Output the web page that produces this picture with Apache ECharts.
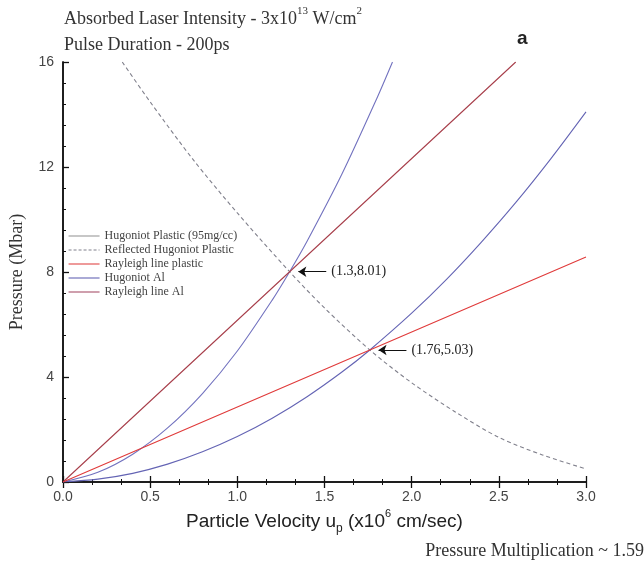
<!DOCTYPE html>
<html>
<head>
<meta charset="utf-8">
<title>Pressure vs particle velocity</title>
<script src="https://cdn.jsdelivr.net/npm/echarts@6/dist/echarts.min.js"></script>
<style>
  html, body { margin: 0; padding: 0; background: #fff; }
  #chart { width: 644px; height: 572px; }
</style>
</head>
<body>
<div id="chart"></div>
<script>
// values: u_p (x10^6 cm/sec), pressure (Mbar)
var hugoniotPlastic = [[0, 0], [0.2, 0.37], [0.4, 1.06], [0.6, 2.06], [0.8, 3.37], [1.0, 4.99], [1.2, 6.93],
  [1.3, 8.01], [1.4, 9.17], [1.6, 11.73], [1.8, 14.61], [1.89, 16.0]];
var reflectedPlastic = [[0.34, 16.0], [0.5, 14.48], [0.75, 12.25], [1.0, 10.25], [1.3, 8.01], [1.5, 6.63],
  [1.76, 5.03], [2.0, 3.78], [2.25, 2.67], [2.5, 1.7], [2.75, 1.03], [3.0, 0.5]];
var rayleighPlastic = [[0, 0], [1.3, 8.01], [2.597, 16.0]];
var hugoniotAl = [[0, 0], [0.2, 0.11], [0.4, 0.33], [0.6, 0.68], [0.8, 1.15], [1.0, 1.73], [1.2, 2.43], [1.4, 3.25],
  [1.6, 4.19], [1.76, 5.03], [2.0, 6.43], [2.2, 7.72], [2.4, 9.14], [2.6, 10.67], [2.8, 12.33], [3.0, 14.1]];
var rayleighAl = [[0, 0], [1.76, 5.03], [3.0, 8.57]];

var crossings = [[1.3, 8.01], [1.76, 5.03]];
var crossingLabels = ["(1.3,8.01)", "(1.76,5.03)"];

var seriesNames = ["Hugoniot Plastic (95mg/cc)", "Reflected Hugoniot Plastic", "Rayleigh line plastic",
  "Hugoniot Al", "Rayleigh line Al"];
// colours as drawn in the plot, and as shown in the legend key
var plotColors = ["#7272bf", "#80808c", "#a8404c", "#6464b4", "#e03a3a"];
var legendColors = ["#9a9a9a", "#80808c", "#e04848", "#6464b4", "#a8506a"];

var SERIF = "'Liberation Serif', 'DejaVu Serif', serif";
var SANS = "'Liberation Sans', Arial, sans-serif";

var chart = echarts.init(document.getElementById("chart"));

function makeSeries(idx, data, dashed) {
  return {
    name: seriesNames[idx],
    type: "line",
    data: data,
    smooth: data.length > 3 ? 0.3 : false,
    symbol: "none",
    clip: true,
    lineStyle: { color: plotColors[idx], width: 1.1, type: dashed ? [4, 3] : "solid" },
    itemStyle: { color: plotColors[idx] }
  };
}

var series = [
  makeSeries(0, hugoniotPlastic),
  makeSeries(1, reflectedPlastic, true),
  makeSeries(2, rayleighPlastic),
  makeSeries(3, hugoniotAl),
  makeSeries(4, rayleighAl)
];

// arrows pointing at the two intersections
series[1].markLine = {
  silent: true,
  symbol: ["arrow", "none"],
  symbolSize: 8,
  lineStyle: { color: "#111", width: 1, type: "solid" },
  label: {
    show: true,
    position: "end",
    distance: 5,
    fontFamily: SERIF,
    fontSize: 14,
    color: "#222",
    formatter: function(p) { return crossingLabels[p.dataIndex]; }
  },
  data: crossings.map(function(pt) {
    return [{ coord: [pt[0] + 0.05, pt[1]] }, { coord: [pt[0] + 0.21, pt[1]] }];
  })
};

var titleRich = {
  t: { fontFamily: SERIF, fontSize: 18, fontWeight: "normal", color: "#333", lineHeight: 26, verticalAlign: "middle" },
  sup: { fontFamily: SERIF, fontSize: 11, fontWeight: "normal", color: "#333", lineHeight: 12, verticalAlign: "top" }
};

var axisNameRich = {
  t: { fontFamily: SANS, fontSize: 19, color: "#222", lineHeight: 26, verticalAlign: "middle" },
  sub: { fontFamily: SANS, fontSize: 12, color: "#222", lineHeight: 11, verticalAlign: "bottom" },
  sup: { fontFamily: SANS, fontSize: 11, color: "#222", lineHeight: 11, verticalAlign: "top" }
};

var frameLine = { show: true, lineStyle: { color: "#111", width: 1.5 } };

var option = {
  animation: false,
  backgroundColor: "#fff",
  title: [
    {
      left: 64,
      top: 6,
      padding: 0,
      text: "{t|Absorbed Laser Intensity - 3x10}{sup|13}{t| W/cm}{sup|2}\n{t|Pulse Duration - 200ps}",
      textStyle: { fontWeight: "normal", rich: titleRich }
    },
    {
      left: 517,
      top: 29,
      padding: 0,
      text: "a",
      textStyle: { fontFamily: SANS, fontSize: 19, fontWeight: "bold", color: "#222" }
    },
    {
      right: 0,
      top: 542,
      padding: 0,
      text: "Pressure Multiplication ~ 1.59",
      textStyle: { fontFamily: SERIF, fontSize: 18, fontWeight: "normal", color: "#333" }
    }
  ],
  legend: {
    orient: "vertical",
    left: 68,
    top: 229,
    padding: 0,
    itemWidth: 31,
    itemHeight: 10,
    itemGap: 0,
    selectedMode: false,
    textStyle: { fontFamily: SERIF, fontSize: 12, color: "#444", lineHeight: 14 },
    data: seriesNames.map(function(name, i) {
      return {
        name: name,
        // hide the marker circle, keep only the line sample
        itemStyle: { color: "rgba(0,0,0,0)", borderColor: "rgba(0,0,0,0)", borderWidth: 0 },
        lineStyle: { color: legendColors[i], width: 1.1, type: i === 1 ? [3, 2] : "solid" }
      };
    })
  },
  grid: { left: 63, right: 58, top: 62, bottom: 90, containLabel: false },
  xAxis: [
    {
      type: "value",
      min: 0,
      max: 3,
      interval: 0.5,
      name: "{t|Particle Velocity u}{sub|p}{t| (x10}{sup|6}{t| cm/sec)}",
      nameLocation: "middle",
      nameGap: 25,
      nameTextStyle: { rich: axisNameRich },
      axisLine: frameLine,
      axisTick: { inside: true, length: 6, lineStyle: { color: "#111", width: 1.3 } },
      minorTick: { show: true, splitNumber: 3, length: 3, lineStyle: { color: "#111", width: 1 } },
      axisLabel: {
        margin: 8,
        fontFamily: SANS,
        fontSize: 14,
        color: "#444",
        formatter: function(v) { return v.toFixed(1); }
      },
      splitLine: { show: false }
    },
    {
      type: "value",
      position: "top",
      min: 0,
      max: 3,
      interval: 0.5,
      axisLine: frameLine,
      axisTick: { inside: true, length: 6, lineStyle: { color: "#111", width: 1.3 } },
      minorTick: { show: true, splitNumber: 3, length: 3, lineStyle: { color: "#111", width: 1 } },
      axisLabel: { show: false },
      splitLine: { show: false }
    }
  ],
  yAxis: [
    {
      type: "value",
      min: 0,
      max: 16,
      interval: 4,
      name: "Pressure (Mbar)",
      nameLocation: "middle",
      nameGap: 37,
      nameRotate: 90,
      nameTextStyle: { fontFamily: SERIF, fontSize: 18, color: "#333" },
      axisLine: frameLine,
      axisTick: { inside: true, length: 6, lineStyle: { color: "#111", width: 1.3 } },
      minorTick: { show: true, splitNumber: 5, length: 3, lineStyle: { color: "#111", width: 1 } },
      axisLabel: { margin: 9, fontFamily: SANS, fontSize: 14, color: "#444" },
      splitLine: { show: false }
    },
    {
      type: "value",
      position: "right",
      min: 0,
      max: 16,
      interval: 4,
      axisLine: frameLine,
      axisTick: { show: false },
      axisLabel: { show: false },
      splitLine: { show: false }
    }
  ],
  series: series
};

chart.setOption(option);
</script>
</body>
</html>
